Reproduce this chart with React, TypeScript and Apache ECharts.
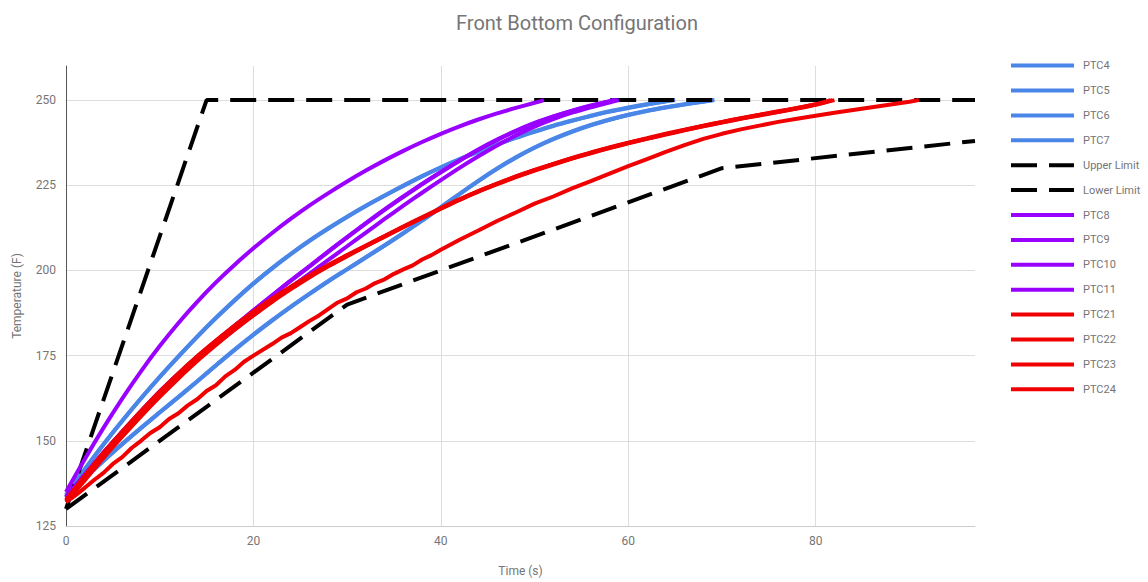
import React, { useEffect, useRef } from "react";
import * as echarts from "echarts";

// ---------- data (time in s, temperature in F) ----------
const ptc4 = [[0,134],[2,141.6],[4,148.9],[6,155.8],[8,162.4],[10,168.7],[12,174.7],[14,180.5],[16,186],[18,191.2],[20,196.1],[22,200.6],[24,204.8],[26,208.7],[28,212.3],[30,215.7],[32,218.9],[34,221.9],[36,224.8],[38,227.6],[40,230.2],[42,232.6],[44,234.8],[46,236.9],[48,238.9],[50,240.7],[52,242.4],[54,243.9],[56,245.3],[58,246.6],[60,247.7],[62,248.7],[64,249.6],[65,250]];
const ptc5 = [[0,133.5],[2,139],[4,144.2],[6,149.1],[8,153.8],[10,158.4],[12,162.9],[14,167.5],[16,172.2],[18,176.8],[20,181.2],[22,185.4],[24,189.4],[26,193.2],[28,196.9],[30,200.4],[32,203.9],[34,207.4],[36,211],[38,214.7],[40,218.6],[42,222.5],[44,226.3],[46,229.9],[48,233.2],[50,236.1],[52,238.6],[54,240.8],[56,242.7],[58,244.3],[60,245.7],[62,246.9],[64,247.9],[66,248.8],[68,249.6],[69,250]];
const ptc6 = [[0,134.2],[2,141.7],[4,149],[6,155.9],[8,162.5],[10,168.8],[12,174.8],[14,180.6],[16,186.1],[18,191.3],[20,196.2],[22,200.7],[24,204.9],[26,208.8],[28,212.4],[30,215.8],[32,219],[34,222],[36,224.9],[38,227.7],[40,230.3],[42,232.7],[44,234.9],[46,237],[48,239],[50,240.8],[52,242.5],[54,244],[56,245.4],[58,246.7],[60,247.8],[62,248.8],[64,249.7],[64.6,250]];
const ptc7 = [[0,133.4],[2,138.9],[4,144.1],[6,149],[8,153.7],[10,158.3],[12,162.8],[14,167.4],[16,172.1],[18,176.7],[20,181.1],[22,185.3],[24,189.3],[26,193.1],[28,196.8],[30,200.3],[32,203.8],[34,207.3],[36,210.9],[38,214.6],[40,218.5],[42,222.4],[44,226.2],[46,229.8],[48,233.1],[50,236],[52,238.5],[54,240.7],[56,242.6],[58,244.2],[60,245.6],[62,246.8],[64,247.8],[66,248.7],[68,249.5],[69.2,250]];
const upperLimit = [[0,130],[15,250],[97,250]];
const lowerLimit = [[0,130],[30,190],[70,230],[97,238]];
const ptc8 = [[0,135],[2,144.6],[4,153.8],[6,162.4],[8,170.4],[10,177.8],[12,184.6],[14,190.8],[16,196.5],[18,201.7],[20,206.5],[22,211],[24,215.2],[26,219.1],[28,222.7],[30,226.1],[32,229.3],[34,232.3],[36,235.1],[38,237.7],[40,240.1],[42,242.3],[44,244.3],[46,246.1],[48,247.7],[50,249.2],[51,250]];
const ptc9 = [[0,133.5],[2,140],[4,146.5],[6,152.6],[8,158.6],[10,164.4],[12,169.6],[14,174.5],[16,179.2],[18,183.7],[20,188.2],[22,192.6],[24,197],[26,201.2],[28,205.5],[30,209.7],[32,213.8],[34,217.8],[36,221.6],[38,225.3],[40,228.8],[42,232.2],[44,235.4],[46,238.3],[48,240.9],[50,243.2],[52,245.1],[54,246.8],[56,248.3],[58,249.6],[58.8,250]];
const ptc10 = [[0,133.3],[2,139.8],[4,146.3],[6,152.4],[8,158.3],[10,164],[12,169.1],[14,173.9],[16,178.4],[18,182.7],[20,186.9],[22,191],[24,195.1],[26,199.1],[28,203.1],[30,207.1],[32,211.1],[34,215.1],[36,219],[38,222.8],[40,226.5],[42,230.1],[44,233.5],[46,236.7],[48,239.6],[50,242.2],[52,244.4],[54,246.3],[56,247.9],[58,249.3],[59,250]];
const ptc11 = [[0,133.6],[2,140.1],[4,146.6],[6,152.7],[8,158.7],[10,164.5],[12,169.7],[14,174.6],[16,179.3],[18,183.8],[20,188.3],[22,192.7],[24,197.1],[26,201.3],[28,205.6],[30,209.8],[32,213.9],[34,217.9],[36,221.7],[38,225.4],[40,228.9],[42,232.3],[44,235.5],[46,238.4],[48,241],[50,243.3],[52,245.2],[54,246.9],[56,248.4],[58,249.7],[58.6,250]];
const ptc21 = [[0,132.5],[2,139.5],[4,146.3],[6,152.5],[8,158.5],[10,164.2],[12,169.6],[14,174.6],[16,179.3],[18,183.7],[20,187.8],[22,191.6],[24,195.1],[26,198.4],[28,201.5],[30,204.4],[32,207.2],[34,210],[36,212.8],[38,215.5],[40,218.2],[42,220.8],[44,223.2],[46,225.4],[48,227.5],[50,229.4],[52,231.2],[54,232.9],[56,234.5],[58,236],[60,237.4],[62,238.7],[64,240],[66,241.2],[68,242.4],[70,243.5],[72,244.6],[74,245.6],[76,246.6],[78,247.6],[80,248.7],[82,250]];
const ptc22 = [[0,132],[2,138.4],[4,145],[6,151.2],[8,157.2],[10,162.9],[12,168.3],[14,173.4],[16,178.1],[18,182.6],[20,186.8],[22,190.8],[24,194.5],[26,198],[28,201.2],[30,204.2],[32,207.1],[34,209.9],[36,212.7],[38,215.4],[40,218.1],[42,220.7],[44,223.1],[46,225.3],[48,227.4],[50,229.3],[52,231.1],[54,232.8],[56,234.4],[58,235.9],[60,237.3],[62,238.6],[64,239.9],[66,241.1],[68,242.3],[70,243.4],[72,244.5],[74,245.5],[76,246.5],[78,247.5],[80,248.6],[81.8,250]];
const ptc23 = [[0,132.7],[2,139.7],[4,146.5],[6,152.7],[8,158.7],[10,164.4],[12,169.8],[14,174.8],[16,179.4],[18,183.8],[20,187.9],[22,191.7],[24,195.2],[26,198.5],[28,201.6],[30,204.5],[32,207.3],[34,210.1],[36,212.9],[38,215.6],[40,218.3],[42,220.9],[44,223.3],[46,225.5],[48,227.6],[50,229.5],[52,231.3],[54,233],[56,234.6],[58,236.1],[60,237.5],[62,238.8],[64,240.1],[66,241.3],[68,242.5],[70,243.6],[72,244.7],[74,245.7],[76,246.7],[78,247.7],[80,248.8],[81.6,250]];
const ptc24 = [[0,132],[1,134],[2,136.2],[3,138.5],[4,140.6],[5,143.2],[6,145.2],[7,147.9],[8,150],[9,152.3],[10,154],[11,156.4],[12,158.1],[13,160.4],[14,162.2],[15,164.6],[16,166.3],[17,168.9],[18,170.8],[19,173.2],[20,175],[22,178.4],[23,180.3],[24,181.6],[25,183.4],[26,185.2],[27,186.8],[28,188.7],[29,190.6],[30,191.8],[31,193.6],[32,194.7],[33,196.3],[34,197.4],[35,199],[36,200.3],[37,201.5],[38,203.2],[39,204.5],[40,206.1],[42,209],[44,211.7],[46,214.5],[48,217],[50,219.6],[52,221.7],[54,224.1],[56,226.2],[58,228.4],[60,230.6],[62,232.7],[64,234.8],[66,236.8],[68,238.6],[70,240.1],[72,241.4],[74,242.5],[76,243.6],[78,244.5],[80,245.4],[82,246.3],[84,247.1],[86,247.9],[88,248.7],[90,249.5],[91,250]];

const seriesNames = ["PTC4","PTC5","PTC6","PTC7","Upper Limit","Lower Limit","PTC8","PTC9","PTC10","PTC11","PTC21","PTC22","PTC23","PTC24"];
const seriesData = [ptc4, ptc5, ptc6, ptc7, upperLimit, lowerLimit, ptc8, ptc9, ptc10, ptc11, ptc21, ptc22, ptc23, ptc24];
const seriesColors = ["#4a86e8","#4a86e8","#4a86e8","#4a86e8","#000000","#000000","#9900ff","#9900ff","#9900ff","#9900ff","#f00000","#f00000","#f00000","#f00000"];
const dashedSeries = ["Upper Limit", "Lower Limit"];

const xTicks = { min: 0, max: 97, interval: 20 };
const yTicks = { min: 125, max: 260, interval: 25 };

const titleText = "Front Bottom Configuration";
const xName = "Time (s)";
const yName = "Temperature (F)";

export default function App() {
  const ref = useRef<HTMLDivElement>(null);
  useEffect(() => {
    if (!ref.current) return;
    const chart = echarts.init(ref.current, undefined, { renderer: "svg" });
    const gray = "#757575";
    chart.setOption({
      animation: false,
      backgroundColor: "#ffffff",
      textStyle: { fontFamily: "Roboto" },
      title: {
        text: titleText,
        left: 451,
        top: 8,
        textStyle: { fontSize: 20, fontWeight: "normal", color: gray, fontFamily: "Roboto" },
      },
      legend: {
        orient: "vertical",
        left: 1004,
        top: 55,
        itemWidth: 63,
        itemHeight: 14,
        itemGap: 13.7,
        data: seriesNames,
        itemStyle: { opacity: 0 },
        lineStyle: { width: 4 },
        textStyle: { fontSize: 11, color: gray, fontFamily: "Roboto", padding: [0, 0, 0, 4] },
      },
      grid: { left: 66, right: 173, top: 66, bottom: 52, containLabel: false },
      xAxis: {
        type: "value",
        min: xTicks.min,
        max: xTicks.max,
        interval: xTicks.interval,
        name: xName,
        nameLocation: "middle",
        nameGap: 39,
        nameTextStyle: { fontSize: 12, color: gray, fontFamily: "Roboto" },
        axisLine: { show: true, lineStyle: { color: "#cccccc", width: 1 } },
        axisTick: { show: false },
        axisLabel: { fontSize: 12, color: gray, margin: 9, showMaxLabel: false, fontFamily: "Roboto" },
        splitLine: { show: true, showMinLine: false, showMaxLine: false, lineStyle: { color: "#dddddd", width: 1 } },
      },
      yAxis: {
        type: "value",
        min: yTicks.min,
        max: yTicks.max,
        interval: yTicks.interval,
        name: yName,
        nameLocation: "middle",
        nameGap: 43,
        nameTextStyle: { fontSize: 12, color: gray, fontFamily: "Roboto" },
        axisLine: { show: true, lineStyle: { color: "#555555", width: 1 } },
        axisTick: { show: false },
        axisLabel: { fontSize: 12, color: gray, margin: 10, showMaxLabel: false, fontFamily: "Roboto" },
        splitLine: { show: true, showMinLine: false, showMaxLine: false, lineStyle: { color: "#dddddd", width: 1 } },
      },
      series: seriesNames.map((name, i) => {
        const dashed = dashedSeries.includes(name);
        return {
          name,
          type: "line",
          data: seriesData[i],
          symbol: "none",
          showSymbol: false,
          smooth: dashed || name === "PTC24" ? false : 0.3,
          color: seriesColors[i],
          lineStyle: {
            color: seriesColors[i],
            width: 4,
            type: dashed ? [26, 12] : "solid",
            cap: "butt",
          },
          emphasis: { disabled: true },
        };
      }),
    });
    return () => chart.dispose();
  }, []);
  return (
    <div
      ref={ref}
      style={{ position: "absolute", left: 0, top: 0, width: 1148, height: 582 }}
    />
  );
}
